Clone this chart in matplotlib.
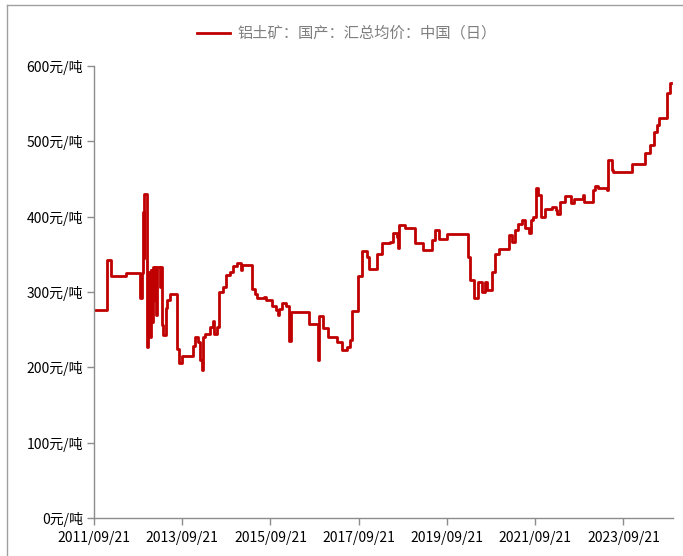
import matplotlib
matplotlib.use('Agg')
import matplotlib.pyplot as plt
import matplotlib.dates as mdates
from matplotlib.lines import Line2D
import pandas as pd

plt.rcParams['font.family'] = ['Noto Sans CJK SC', 'DejaVu Sans']

# 铝土矿:国产:汇总均价:中国(日), 元/吨
dates = [
    '2011-09-21', '2012-01-09', '2012-02-06', '2012-06-09', '2012-10-02', '2012-10-20',
    '2012-10-28', '2012-11-04', '2012-11-10', '2012-11-30', '2012-12-14', '2012-12-24',
    '2013-01-01', '2013-01-09', '2013-01-19', '2013-01-30', '2013-02-07', '2013-02-18',
    '2013-02-24', '2013-03-20', '2013-03-29', '2013-04-04', '2013-04-17', '2013-05-09',
    '2013-05-20', '2013-06-11', '2013-08-06', '2013-08-12', '2013-08-29', '2013-09-19',
    '2013-12-19', '2014-01-08', '2014-01-29', '2014-02-17', '2014-03-01', '2014-03-12',
    '2014-03-28', '2014-05-08', '2014-05-31', '2014-06-11', '2014-07-03', '2014-07-22',
    '2014-08-27', '2014-09-15', '2014-10-21', '2014-11-17', '2014-12-21', '2015-01-18',
    '2015-01-28', '2015-04-19', '2015-05-16', '2015-06-04', '2015-07-30', '2015-08-15',
    '2015-10-01', '2015-11-06', '2015-11-25', '2015-12-03', '2015-12-23', '2016-01-28',
    '2016-02-24', '2016-03-09', '2016-08-07', '2016-10-21', '2016-10-29', '2016-12-02',
    '2017-01-12', '2017-03-23', '2017-05-03', '2017-06-13', '2017-07-11', '2017-07-30',
    '2017-09-17', '2017-10-15', '2017-11-26', '2017-12-17', '2018-02-17', '2018-03-30',
    '2018-06-07', '2018-07-04', '2018-08-01', '2018-08-15', '2018-08-23', '2018-10-09',
    '2018-12-31', '2019-03-09', '2019-05-17', '2019-06-13', '2019-07-19', '2019-08-08',
    '2019-09-23', '2020-03-16', '2020-03-29', '2020-05-01', '2020-06-06', '2020-07-04',
    '2020-07-31', '2020-08-15', '2020-09-25', '2020-10-22', '2020-11-27', '2021-02-19',
    '2021-03-11', '2021-04-07', '2021-05-04', '2021-06-01', '2021-06-29', '2021-08-03',
    '2021-08-15', '2021-09-05', '2021-09-28', '2021-10-17', '2021-11-06', '2021-12-11',
    '2022-02-05', '2022-03-12', '2022-03-23', '2022-04-14', '2022-05-26', '2022-07-12',
    '2022-08-08', '2022-10-19', '2022-10-30', '2023-01-10', '2023-01-29', '2023-02-26',
    '2023-05-06', '2023-05-20', '2023-06-17', '2023-06-30', '2023-11-29', '2024-03-18',
    '2024-04-29', '2024-06-01', '2024-06-23', '2024-07-15', '2024-09-14', '2024-09-19',
    '2024-10-11', '2024-10-19',
]
prices = [
    276, 342, 322, 326, 292, 326,
    407, 345, 430, 227, 327, 240,
    329, 260, 333, 290, 333, 270,
    333, 307, 333, 256, 243, 279,
    289, 298, 282, 225, 206, 215,
    229, 241, 234, 210, 196, 241,
    245, 254, 261, 245, 254, 300,
    307, 323, 327, 334, 339, 330,
    336, 304, 298, 292, 294, 290,
    281, 276, 270, 278, 285, 282,
    235, 274, 257, 210, 268, 252,
    240, 234, 223, 227, 236, 275,
    321, 355, 347, 331, 351, 365,
    367, 379, 373, 359, 389, 385,
    365, 356, 369, 382, 371, 370,
    377, 347, 316, 292, 314, 300,
    314, 303, 327, 351, 357, 376,
    367, 382, 391, 396, 385, 378,
    396, 400, 438, 429, 400, 411,
    413, 409, 404, 420, 427, 418,
    424, 429, 419, 435, 441, 438,
    436, 475, 462, 460, 470, 485,
    495, 513, 522, 531, 546, 564,
    577, 577,
]

tick_dates = ['2011-09-21', '2013-09-21', '2015-09-21', '2017-09-21',
              '2019-09-21', '2021-09-21', '2023-09-21']
y_ticks = [0, 100, 200, 300, 400, 500, 600]

x = pd.to_datetime(dates)

fig = plt.figure(figsize=(6.83, 5.56), dpi=100)
ax = fig.add_axes([0.1376, 0.0683, 0.8478, 0.8127])

ax.plot(x, prices, color='#C00000', linewidth=2.0, drawstyle='steps-post',
        label='铝土矿：国产：汇总均价：中国（日）')

ax.set_xlim(pd.Timestamp('2011-09-21'), pd.Timestamp('2024-11-05'))
ax.set_ylim(0, 600)
ax.set_xticks(pd.to_datetime(tick_dates))
ax.xaxis.set_major_formatter(mdates.DateFormatter('%Y/%m/%d'))
ax.set_yticks(y_ticks)
ax.set_yticklabels([f'{v}元/吨' for v in y_ticks])

for s in ['top', 'right']:
    ax.spines[s].set_visible(False)
for s in ['left', 'bottom']:
    ax.spines[s].set_color('#8c8c8c')
    ax.spines[s].set_linewidth(1.0)
ax.tick_params(axis='both', colors='#8c8c8c', length=5, width=1.0,
               labelcolor='black', labelsize=10)
ax.tick_params(axis='x', pad=4)
ax.tick_params(axis='y', pad=3)

leg = fig.legend(loc='center', bbox_to_anchor=(0.508, 0.94), frameon=False,
                 fontsize=11, handlelength=2.1, handletextpad=0.5)
for t in leg.get_texts():
    t.set_color('#7f7f7f')

# thin frame lines at top and left of the figure
fig.add_artist(Line2D([0.0103, 1.0], [0.991, 0.991], color='#a0a0a0', linewidth=1.0))
fig.add_artist(Line2D([0.0103, 0.0103], [0.0, 0.991], color='#a0a0a0', linewidth=1.0))

fig.savefig('out.png', dpi=100)
